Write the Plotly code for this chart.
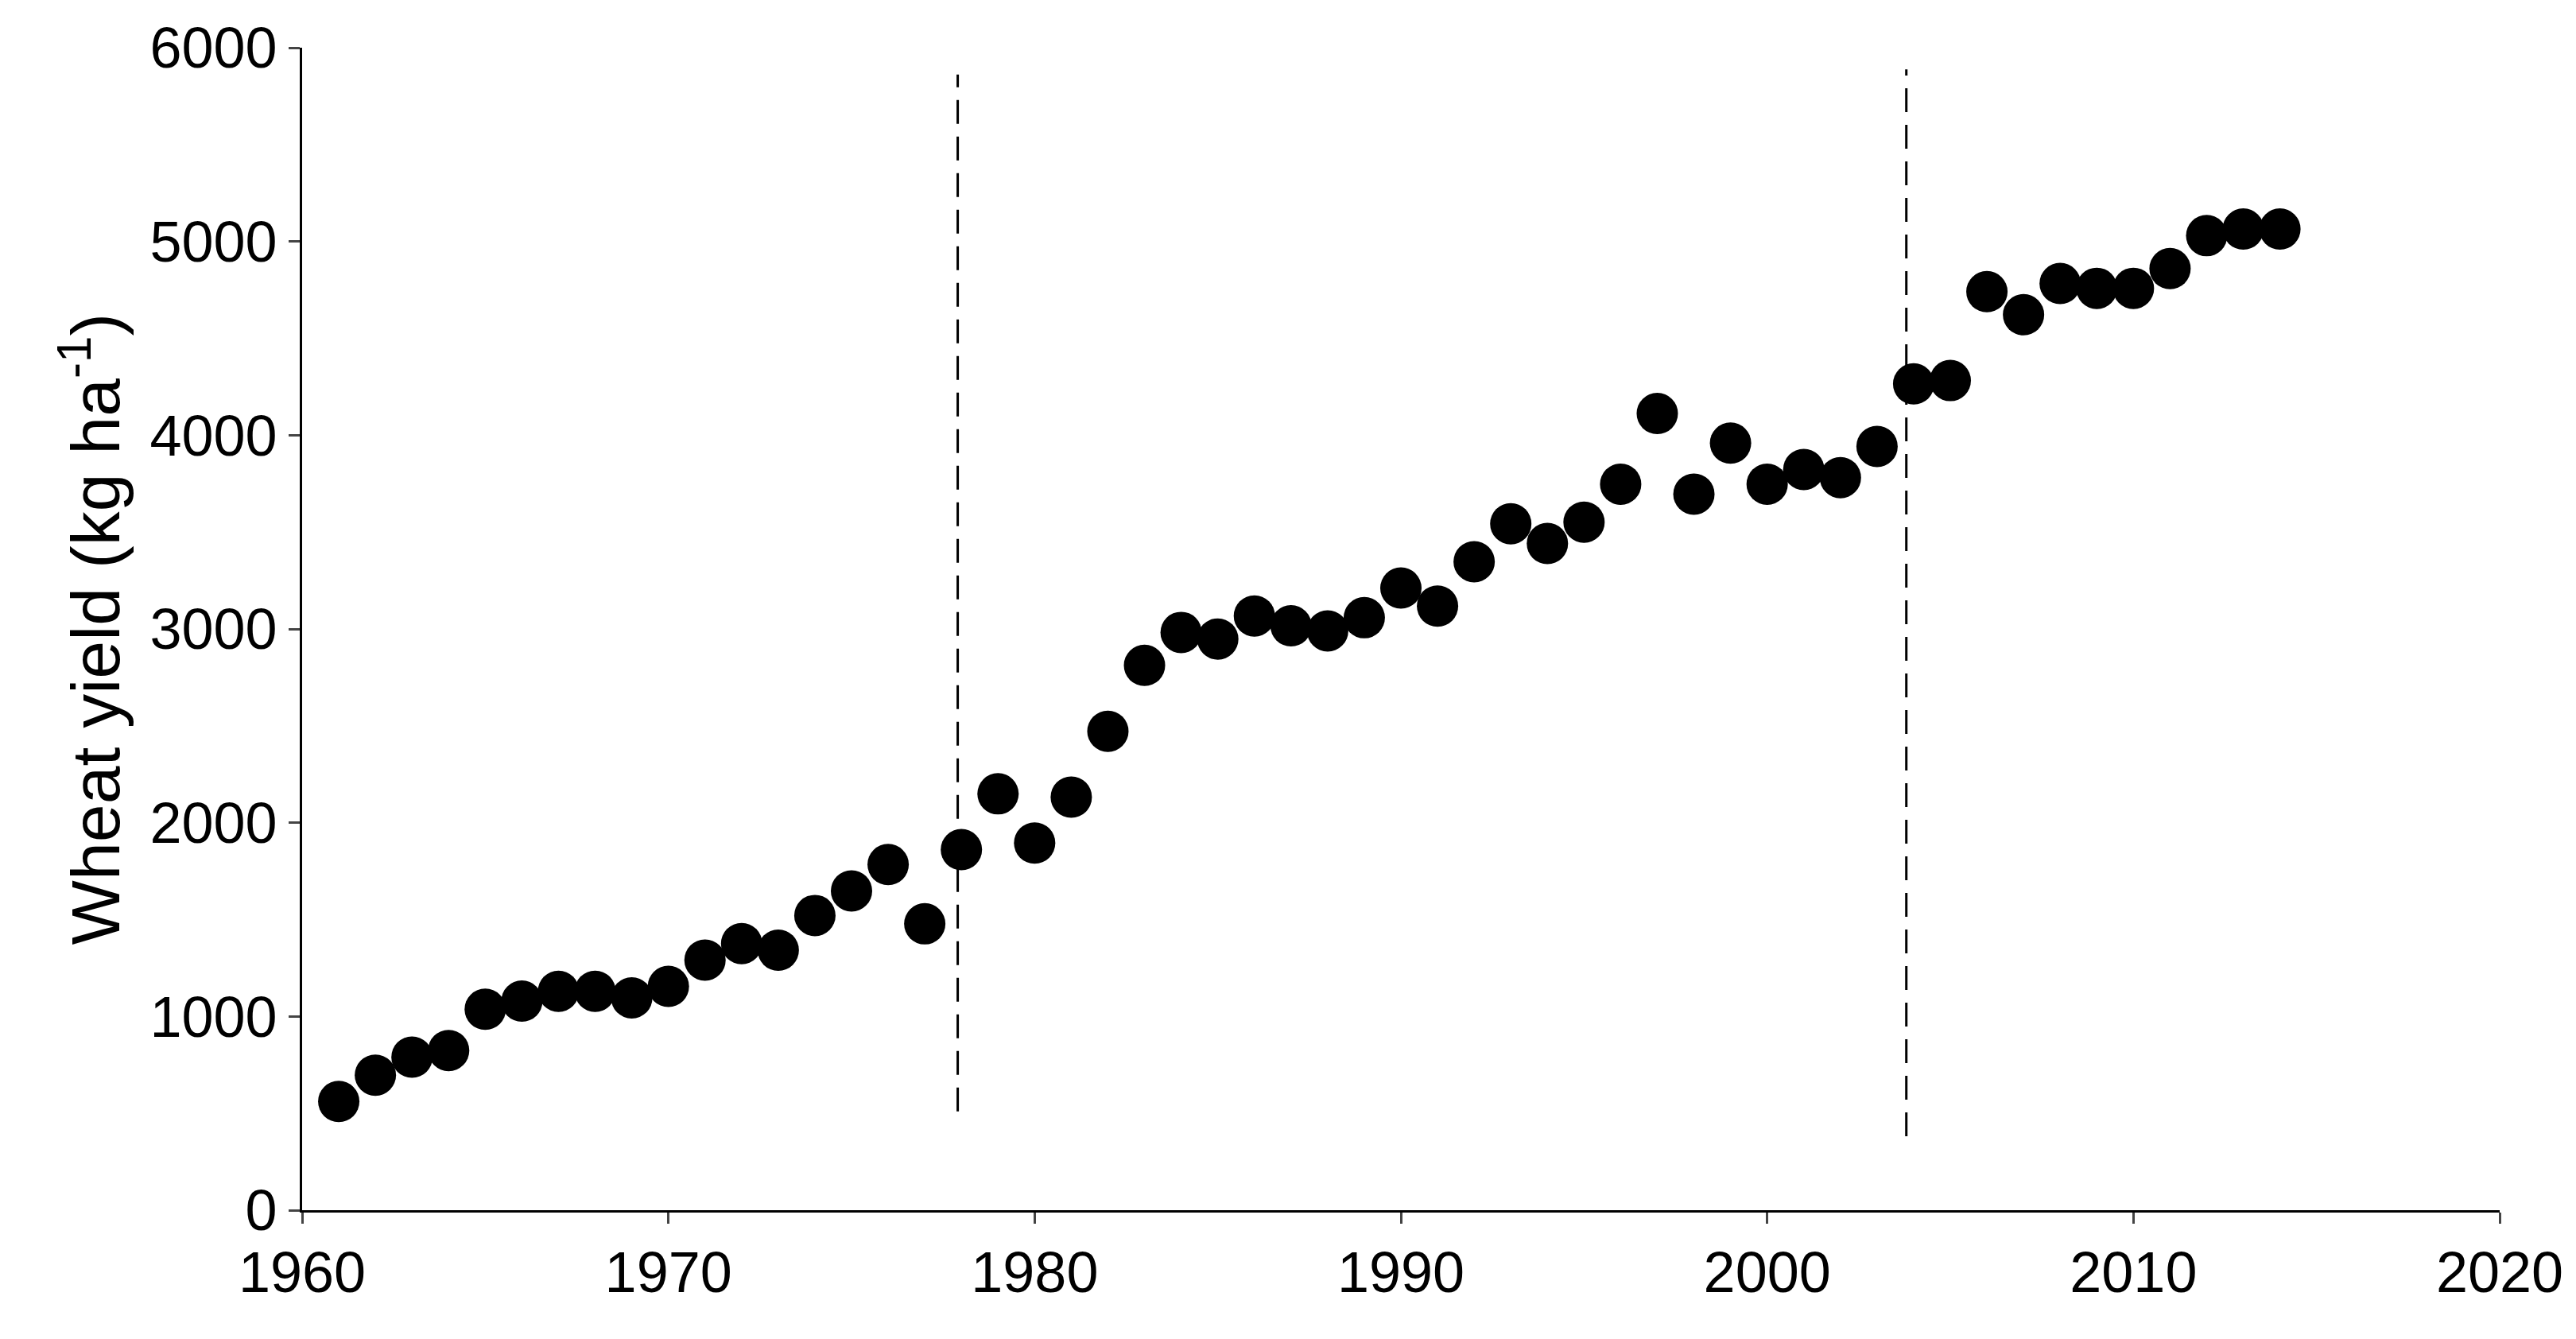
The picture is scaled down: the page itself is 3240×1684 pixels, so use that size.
import plotly.graph_objects as go

years = list(range(1961, 2015))
yields = [561, 697, 790, 824, 1037, 1079, 1130, 1130, 1096, 1155,
          1291, 1376, 1342, 1521, 1648, 1784, 1478, 1861, 2149, 1895,
          2132, 2472, 2812, 2982, 2948, 3067, 3016, 2990, 3058, 3211,
          3118, 3347, 3543, 3441, 3551, 3747, 4112, 3696, 3959, 3747,
          3823, 3781, 3942, 4265, 4282, 4741, 4622, 4783, 4758, 4758,
          4860, 5030, 5064, 5064]
breaks_x = [1977.9, 2003.8]
breaks_y0 = [510, 382]
breaks_y1 = [5862, 5888]

fig = go.Figure()
fig.add_trace(go.Scatter(x=years, y=yields, mode="markers",
                         marker=dict(color="black", size=52), showlegend=False))
for bx, a, b in zip(breaks_x, breaks_y0, breaks_y1):
    fig.add_trace(go.Scatter(x=[bx, bx], y=[a, b], mode="lines",
                             line=dict(color="black", width=3, dash="30px,16px"),
                             showlegend=False))

fig.update_layout(
    width=3240, height=1684, plot_bgcolor="white", paper_bgcolor="white",
    margin=dict(l=372, r=104, t=50, b=170),
    font=dict(family="Liberation Sans, Arial", size=72, color="black"),
)
fig.update_xaxes(range=[1960, 2020], tickvals=[1960, 1970, 1980, 1990, 2000, 2010, 2020],
                 showgrid=False, zeroline=False, showline=True, linecolor="black",
                 linewidth=3, ticks="outside", ticklen=14, tickwidth=3)
fig.update_yaxes(range=[0, 6000], tickvals=[0, 1000, 2000, 3000, 4000, 5000, 6000],
                 showgrid=False, zeroline=False, showline=True, linecolor="black",
                 linewidth=3, ticks="outside", ticklen=14, tickwidth=3,
                 title=dict(text="Wheat yield (kg ha<sup>-1</sup>)", standoff=10))
fig.write_html("out.html")
